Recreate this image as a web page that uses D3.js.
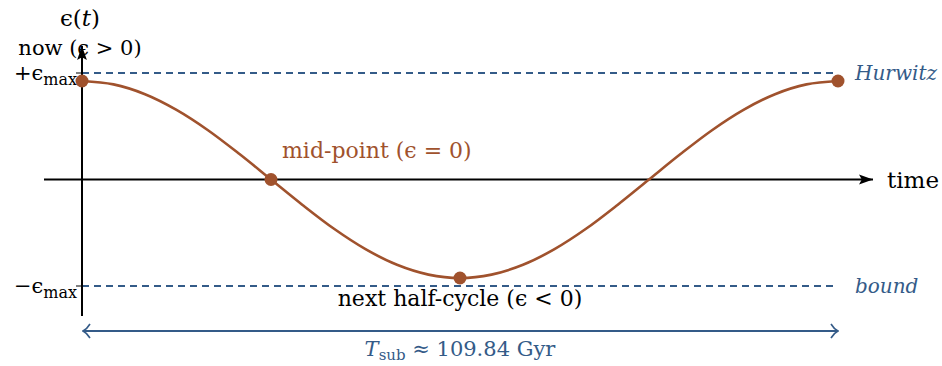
<!DOCTYPE html>
<html>
<head>
<meta charset="utf-8">
<script src="https://cdn.jsdelivr.net/npm/d3@7/dist/d3.min.js"></script>
<style>
  html, body { margin: 0; padding: 0; background: #fff; }
  svg text { font-family: "DejaVu Serif", "Liberation Serif", serif; }
</style>
</head>
<body>
<svg id="chart" width="942" height="366"></svg>
<script>
// Oscillation of epsilon over one sub-cycle (time as a fraction of T_sub)
const curveT   = [0, 1/24, 2/24, 3/24, 4/24, 5/24, 6/24, 7/24, 8/24, 9/24, 10/24, 11/24, 12/24,
                  13/24, 14/24, 15/24, 16/24, 17/24, 18/24, 19/24, 20/24, 21/24, 22/24, 23/24, 1];
const curveEps = [0.925, 0.893, 0.801, 0.654, 0.463, 0.239, 0, -0.239, -0.463, -0.654, -0.801, -0.893, -0.925,
                  -0.893, -0.801, -0.654, -0.463, -0.239, 0, 0.239, 0.463, 0.654, 0.801, 0.893, 0.925];
// Highlighted phases: now, mid-point, next half-cycle minimum, end of cycle
const markerT   = [0, 0.25, 0.5, 1];
const markerEps = [0.925, 0, -0.925, 0.925];
// Reference levels
const boundLevels = [1, -1];
const boundLabels = ["Hurwitz", "bound"];
const periodLabel = "109.84";

const brown = "#a0522d";
const blue = "#345b88";

const svg = d3.select("#chart");
const x = d3.scaleLinear().domain([0, 1]).range([82, 838]);
const y = d3.scaleLinear().domain([-1, 1]).range([286, 73]);

const defs = svg.append("defs");
defs.append("marker").attr("id", "axisHead")
  .attr("viewBox", "0 0 10 10").attr("refX", 10).attr("refY", 5)
  .attr("markerWidth", 14).attr("markerHeight", 14).attr("markerUnits", "userSpaceOnUse")
  .attr("orient", "auto")
  .append("path").attr("d", "M0,1.5 L10,5 L0,8.5 L2,5 Z").attr("fill", "#000");
defs.append("marker").attr("id", "spanHead")
  .attr("viewBox", "0 0 10 16").attr("refX", 9).attr("refY", 8)
  .attr("markerWidth", 10).attr("markerHeight", 16).attr("markerUnits", "userSpaceOnUse")
  .attr("orient", "auto-start-reverse")
  .append("path").attr("d", "M2,1 Q5,6 9,8 Q5,10 2,15")
  .attr("fill", "none").attr("stroke", blue).attr("stroke-width", 1.6);

// Dashed reference levels
svg.selectAll("line.bound").data(boundLevels).enter().append("line")
  .attr("class", "bound")
  .attr("x1", x(0)).attr("x2", x(1))
  .attr("y1", d => y(d)).attr("y2", d => y(d))
  .attr("stroke", blue).attr("stroke-width", 1.8).attr("stroke-dasharray", "7,5");

svg.selectAll("text.boundLabel").data(boundLevels).enter().append("text")
  .attr("class", "boundLabel")
  .attr("x", x(1) + 17).attr("y", d => y(d) + 7)
  .attr("font-style", "italic").attr("font-size", 20).attr("fill", blue)
  .text((d, i) => boundLabels[i]);

// Axes
svg.append("line")
  .attr("x1", 44).attr("x2", 873).attr("y1", y(0)).attr("y2", y(0))
  .attr("stroke", "#000").attr("stroke-width", 2).attr("marker-end", "url(#axisHead)");
svg.append("line")
  .attr("x1", x(0)).attr("x2", x(0)).attr("y1", 316).attr("y2", 46)
  .attr("stroke", "#000").attr("stroke-width", 2).attr("marker-end", "url(#axisHead)");

// Ticks at ±epsilon_max
svg.selectAll("line.tick").data(boundLevels).enter().append("line")
  .attr("class", "tick")
  .attr("x1", x(0) - 6).attr("x2", x(0)).attr("y1", d => y(d)).attr("y2", d => y(d))
  .attr("stroke", "#000").attr("stroke-width", 1);

const tickText = svg.selectAll("text.tickLabel").data(boundLevels).enter().append("text")
  .attr("class", "tickLabel")
  .attr("x", x(0) - 5).attr("y", d => y(d) + 7)
  .attr("text-anchor", "end").attr("font-size", 21).attr("fill", "#000");
tickText.append("tspan").text(d => (d > 0 ? "+" : "\u2212") + "\u03f5");
tickText.append("tspan").attr("font-size", 16).attr("dy", 5).text("max");

// Oscillation curve
const pts = curveT.map((t, i) => [t, curveEps[i]]);
svg.append("path").datum(pts)
  .attr("d", d3.line().x(d => x(d[0])).y(d => y(d[1])).curve(d3.curveCatmullRom))
  .attr("fill", "none").attr("stroke", brown).attr("stroke-width", 2.6);

svg.selectAll("circle.phase").data(markerT).enter().append("circle")
  .attr("class", "phase")
  .attr("cx", d => x(d)).attr("cy", (d, i) => y(markerEps[i]))
  .attr("r", 6.5).attr("fill", brown);

// Axis titles
const yTitle = svg.append("text").attr("x", 80).attr("y", 26)
  .attr("text-anchor", "middle").attr("font-size", 23);
yTitle.append("tspan").text("\u03f5(");
yTitle.append("tspan").attr("font-style", "italic").text("t");
yTitle.append("tspan").text(")");
svg.append("text").attr("x", 887).attr("y", 188)
  .attr("font-size", 23).text("time");

// Phase annotations
svg.append("text").attr("x", 80).attr("y", 55).attr("text-anchor", "middle")
  .attr("font-size", 21).text("now (\u03f5 > 0)");
svg.append("text").attr("x", x(markerT[1]) + 11).attr("y", 158)
  .attr("font-size", 22).attr("fill", brown).text("mid-point (\u03f5 = 0)");
svg.append("text").attr("x", x(markerT[2])).attr("y", 306).attr("text-anchor", "middle")
  .attr("font-size", 22).text("next half-cycle (\u03f5 < 0)");

// Period span
svg.append("line")
  .attr("x1", x(0) + 1).attr("x2", x(1)).attr("y1", 331).attr("y2", 331)
  .attr("stroke", blue).attr("stroke-width", 2)
  .attr("marker-start", "url(#spanHead)").attr("marker-end", "url(#spanHead)");
const pl = svg.append("text").attr("x", x(0.5)).attr("y", 356)
  .attr("text-anchor", "middle").attr("font-size", 21).attr("fill", blue);
pl.append("tspan").attr("font-style", "italic").text("T");
pl.append("tspan").attr("font-size", 15).attr("dy", 4).text("sub");
pl.append("tspan").attr("dy", -4).text(" \u2248 " + periodLabel + " Gyr");
</script>
</body>
</html>
